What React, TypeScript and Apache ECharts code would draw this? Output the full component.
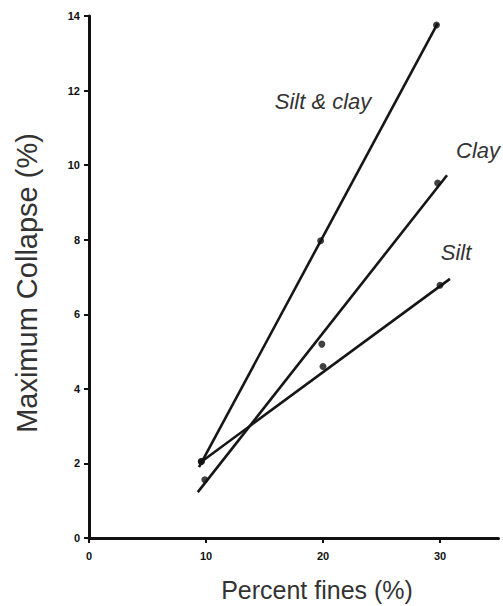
import React, { useEffect, useRef } from "react";
import * as echarts from "echarts";

// Data
const siltClayPoints: [number, number][] = [[9.6, 2.05], [19.8, 7.97], [29.7, 13.76]];
const clayPoints: [number, number][] = [[9.9, 1.56], [19.9, 5.2], [29.8, 9.52]];
const siltPoints: [number, number][] = [[9.6, 2.05], [20.0, 4.6], [30.0, 6.78]];

const siltClayLine: [number, number][] = [[9.4, 1.9], [29.8, 13.8]];
const clayLine: [number, number][] = [[9.3, 1.23], [30.6, 9.73]];
const siltLine: [number, number][] = [[9.4, 2.0], [30.85, 6.95]];

const xTicks = [0, 10, 20, 30];
const yTicks = [0, 2, 4, 6, 8, 10, 12, 14];

const FONT = '"Liberation Sans", Arial, Helvetica, sans-serif';

export default function App() {
  const ref = useRef<HTMLDivElement>(null);

  useEffect(() => {
    if (!ref.current) return;
    const chart = echarts.init(ref.current, undefined, { renderer: "svg" });

    const lineSeries = (name: string, data: [number, number][]) => ({
      name,
      type: "line",
      data,
      showSymbol: false,
      symbol: "none",
      lineStyle: { color: "#161616", width: 2.6 },
      z: 2,
    });
    const pointSeries = (name: string, data: [number, number][]) => ({
      name: name + " data",
      type: "scatter",
      data,
      symbol: "circle",
      symbolSize: 7,
      itemStyle: { color: "#111" },
      z: 3,
    });

    chart.setOption({
      animation: false,
      backgroundColor: "#ffffff",
      grid: { left: 89, right: 4.5, top: 16, bottom: 68, containLabel: false },
      xAxis: {
        type: "value",
        min: 0,
        max: 35,
        interval: 10,
        axisLine: { show: true, onZero: false, lineStyle: { color: "#111", width: 3 } },
        axisTick: {
          show: true,
          length: 5,
          lineStyle: { color: "#111", width: 2 },
          customValues: xTicks,
        },
        axisLabel: {
          color: "#111",
          fontSize: 11,
          fontWeight: "bold",
          fontFamily: FONT,
          margin: 12,
          customValues: xTicks,
        },
        splitLine: { show: false },
      },
      yAxis: {
        type: "value",
        min: 0,
        max: 14,
        interval: 2,
        axisLine: { show: true, onZero: false, lineStyle: { color: "#111", width: 3 } },
        axisTick: { show: true, length: 5, lineStyle: { color: "#111", width: 2 } },
        axisLabel: {
          color: "#111",
          fontSize: 11,
          fontWeight: "bold",
          fontFamily: FONT,
          margin: 9,
          customValues: yTicks,
        },
        splitLine: { show: false },
      },
      series: [
        lineSeries("Silt & clay", siltClayLine),
        lineSeries("Clay", clayLine),
        lineSeries("Silt", siltLine),
        pointSeries("Silt & clay", siltClayPoints),
        pointSeries("Clay", clayPoints),
        pointSeries("Silt", siltPoints),
      ],
      graphic: [
        {
          type: "text",
          x: 323,
          y: 101,
          style: {
            text: "Silt & clay",
            fill: "#333",
            font: `italic 22px ${FONT}`,
            align: "center",
            verticalAlign: "middle",
          },
        },
        {
          type: "text",
          x: 478,
          y: 150,
          style: {
            text: "Clay",
            fill: "#333",
            font: `italic 22px ${FONT}`,
            align: "center",
            verticalAlign: "middle",
          },
        },
        {
          type: "text",
          x: 456,
          y: 252,
          style: {
            text: "Silt",
            fill: "#333",
            font: `italic 22px ${FONT}`,
            align: "center",
            verticalAlign: "middle",
          },
        },
        {
          type: "text",
          x: 317,
          y: 590,
          style: {
            text: "Percent fines (%)",
            fill: "#333",
            font: `25px ${FONT}`,
            align: "center",
            verticalAlign: "middle",
          },
        },
        {
          type: "text",
          x: 27,
          y: 283,
          rotation: Math.PI / 2,
          style: {
            text: "Maximum Collapse (%)",
            fill: "#333",
            font: `29px ${FONT}`,
            align: "center",
            verticalAlign: "middle",
          },
        },
      ],
    });

    return () => chart.dispose();
  }, []);

  return (
    <div
      ref={ref}
      style={{ position: "fixed", left: 0, top: 0, width: 503, height: 606, background: "#fff" }}
    />
  );
}
